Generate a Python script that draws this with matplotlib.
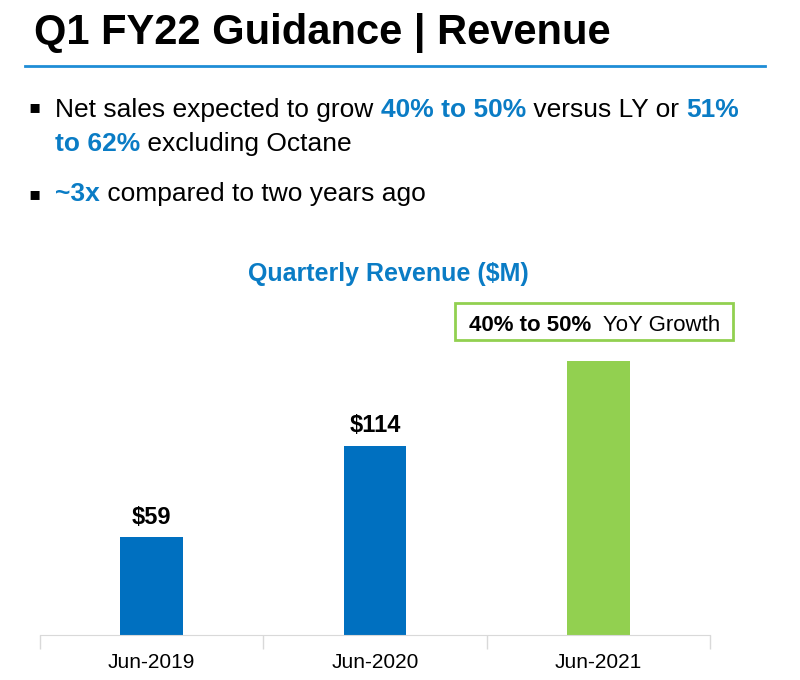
import matplotlib
matplotlib.use("Agg")
import matplotlib.pyplot as plt
from matplotlib.patches import Rectangle

plt.rcParams['font.family'] = ['Liberation Sans', 'DejaVu Sans']

# data
quarters = ['Jun-2019', 'Jun-2020', 'Jun-2021']
revenue = [59, 114, 165]          # last one is guidance midpoint (no label)
bar_labels = ['$59', '$114', '']
bar_colors = ['#0070C0', '#0070C0', '#92D050']

BLUE = '#0A7CC5'
W, H = 800, 680

fig = plt.figure(figsize=(8, 6.8), dpi=100)
renderer = fig.canvas.get_renderer()


def px(x, y):
    return x / W, 1 - y / H


def text_width(s, **kw):
    # width incl. spaces: measure between two bars
    a = fig.text(0, 0, '|' + s + '|', **kw)
    b = fig.text(0, 0, '||', **kw)
    w = a.get_window_extent(renderer).width - b.get_window_extent(renderer).width
    a.remove()
    b.remove()
    return w


def runs(x, y, parts, size):
    for s, color, weight in parts:
        kw = dict(fontsize=size, color=color, fontweight=weight)
        fig.text(*px(x, y), s, va='baseline', ha='left', **kw)
        x += text_width(s, **kw)


# header
fig.text(*px(34, 44), 'Q1 FY22 Guidance | Revenue', fontsize=30, fontweight='bold',
         va='baseline', ha='left')
fig.add_artist(plt.Line2D([25 / W, 765 / W], [1 - 66 / H, 1 - 66 / H], color='#1F8DD6', lw=2))

# bullets
fs = 19
for by in [107, 194]:
    fig.text(*px(28, by), '\u25aa', fontsize=13, va='center', ha='left', family='DejaVu Sans')
runs(55, 117, [('Net sales expected to grow ', 'black', 'normal'),
               ('40% to 50%', BLUE, 'bold'),
               (' versus LY or ', 'black', 'normal'),
               ('51%', BLUE, 'bold')], fs)
runs(55, 151, [('to 62%', BLUE, 'bold'),
               (' excluding Octane', 'black', 'normal')], fs)
runs(55, 201, [('~3x', BLUE, 'bold'),
               (' compared to two years ago', 'black', 'normal')], fs)

# chart
ax = fig.add_axes([40 / W, 1 - 635 / H, 670 / W, 332 / H])
x = range(len(quarters))
bars = ax.bar(x, revenue, width=0.28, color=bar_colors)
for b, lab in zip(bars, bar_labels):
    if lab:
        ax.text(b.get_x() + b.get_width() / 2, b.get_height() + 5, lab,
                ha='center', va='bottom', fontsize=17, fontweight='bold')
ax.set_xlim(-0.5, 2.5)
ax.set_ylim(0, 200)
ax.set_yticks([])
ax.set_xticks([-0.5, 0.5, 1.5, 2.5])
ax.set_xticklabels([])
ax.set_xticks(list(x), quarters, minor=True)
ax.tick_params(axis='x', which='major', length=10, color='#D9D9D9', width=1)
ax.tick_params(axis='x', which='minor', length=0, labelsize=15, pad=13)
for s in ['top', 'right', 'left']:
    ax.spines[s].set_visible(False)
ax.spines['bottom'].set_color('#D9D9D9')

fig.text(*px(388, 281), 'Quarterly Revenue ($M)', fontsize=18, fontweight='bold',
         color=BLUE, ha='center', va='baseline')

# guidance box
fig.add_artist(Rectangle(px(455, 340), 278 / W, 37 / H, transform=fig.transFigure,
                         facecolor='white', edgecolor='#92D050', lw=2))
runs(469, 331, [('40% to 50%', 'black', 'bold'),
                ('  YoY Growth', 'black', 'normal')], 16)

fig.savefig('out.png', dpi=100)
